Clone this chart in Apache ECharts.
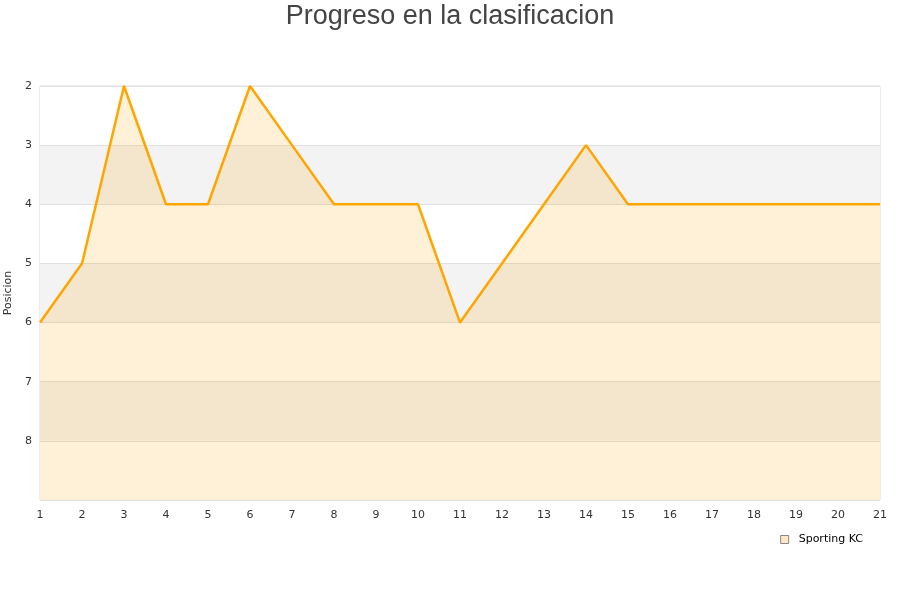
<!DOCTYPE html>
<html>
<head>
<meta charset="utf-8">
<script src="https://cdn.jsdelivr.net/npm/echarts@6/dist/echarts.min.js"></script>
<style>html,body{margin:0;padding:0;background:#fff}#c{width:900px;height:600px}</style>
</head>
<body>
<div id="c"></div>
<script>
var jornadas = ['1','2','3','4','5','6','7','8','9','10','11','12','13','14','15','16','17','18','19','20','21'];
var posiciones = [6,5,2,4,4,2,3,4,4,4,6,5,4,3,4,4,4,4,4,4,4];
var yTicks = [2,3,4,5,6,7,8];
var titulo = 'Progreso en la clasificacion';
var equipo = 'Sporting KC';

var chart = echarts.init(document.getElementById('c'), null, {renderer:'canvas'});
chart.setOption({
  animation: false,
  backgroundColor: '#fff',
  title: {
    text: titulo, left: 'center', top: -2,
    textStyle: {fontFamily: 'Liberation Sans', fontSize: 27, fontWeight: 'normal', color: '#444'}
  },
  legend: {
    data: [{name: equipo, icon: 'rect', itemStyle: {color: '#ffe9c4', borderColor: '#888', borderWidth: 1}}],
    right: 32, top: 529, itemWidth: 8, itemHeight: 8, itemGap: 6,
    textStyle: {fontFamily: 'DejaVu Sans', fontSize: 11, color: '#000', padding: [0, 0, 0, 5]}
  },
  grid: {left: 40, right: 20, top: 86, bottom: 100, show: true, borderColor: '#ddd', borderWidth: 1, outerBoundsMode: 'none', containLabel: false},
  xAxis: {
    type: 'category', data: jornadas, boundaryGap: false,
    axisLine: {show: false}, axisTick: {show: false},
    axisLabel: {fontFamily: 'DejaVu Sans', fontSize: 11, color: '#333', margin: 10},
    splitLine: {show: false}
  },
  yAxis: {
    type: 'value', inverse: true, min: 2, max: 9, interval: 1,
    name: 'Posicion', nameLocation: 'middle', nameGap: 22,
    nameTextStyle: {fontFamily: 'DejaVu Sans', fontSize: 11, color: '#333'},
    axisLine: {show: false}, axisTick: {show: false},
    axisLabel: {fontFamily: 'DejaVu Sans', fontSize: 11, color: '#333', margin: 8,
      formatter: function(v){ return yTicks.indexOf(v) >= 0 ? String(v) : ''; }},
    splitLine: {show: true, lineStyle: {color: '#e0e0e0', width: 1}},
    splitArea: {show: true, areaStyle: {color: ['#ffffff', '#f3f3f3']}}
  },
  series: [{
    name: equipo, type: 'line', data: posiciones,
    symbol: 'none', smooth: false,
    lineStyle: {color: '#ffa500', width: 2.5},
    itemStyle: {color: '#ffe9c4', borderColor: '#888', borderWidth: 1},
    areaStyle: {color: 'rgba(255,165,0,0.22)', origin: 'end'}
  }]
});
</script>
</body>
</html>
